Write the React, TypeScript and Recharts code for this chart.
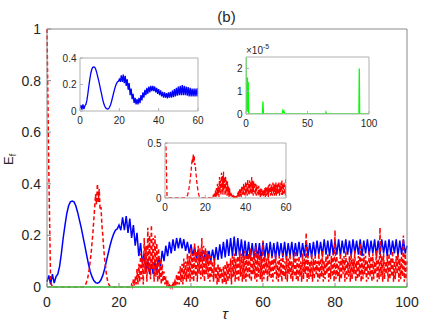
import React from 'react'
import { LineChart, Line, XAxis, YAxis } from 'recharts'

// time axis for the first mode, step 0.5
const tau = [
  0, 0.5, 1, 1.5, 2, 2.5, 3, 3.5, 4, 4.5, 5, 5.5, 6, 6.5, 7, 7.5, 8, 8.5, 9, 9.5,
  10, 10.5, 11, 11.5, 12, 12.5, 13, 13.5, 14, 14.5, 15, 15.5, 16, 16.5, 17, 17.5, 18, 18.5, 19, 19.5,
  20, 20.5, 21, 21.5, 22, 22.5, 23, 23.5, 24, 24.5, 25, 25.5, 26, 26.5, 27, 27.5, 28, 28.5, 29, 29.5,
  30, 30.5, 31, 31.5, 32, 32.5, 33, 33.5, 34, 34.5, 35, 35.5, 36, 36.5, 37, 37.5, 38, 38.5, 39, 39.5,
  40, 40.5, 41, 41.5, 42, 42.5, 43, 43.5, 44, 44.5, 45, 45.5, 46, 46.5, 47, 47.5, 48, 48.5, 49, 49.5,
  50, 50.5, 51, 51.5, 52, 52.5, 53, 53.5, 54, 54.5, 55, 55.5, 56, 56.5, 57, 57.5, 58, 58.5, 59, 59.5,
  60, 60.5, 61, 61.5, 62, 62.5, 63, 63.5, 64, 64.5, 65, 65.5, 66, 66.5, 67, 67.5, 68, 68.5, 69, 69.5,
  70, 70.5, 71, 71.5, 72, 72.5, 73, 73.5, 74, 74.5, 75, 75.5, 76, 76.5, 77, 77.5, 78, 78.5, 79, 79.5,
  80, 80.5, 81, 81.5, 82, 82.5, 83, 83.5, 84, 84.5, 85, 85.5, 86, 86.5, 87, 87.5, 88, 88.5, 89, 89.5,
  90, 90.5, 91, 91.5, 92, 92.5, 93, 93.5, 94, 94.5, 95, 95.5, 96, 96.5, 97, 97.5, 98, 98.5, 99, 99.5,
  100,
]

const blueEf = [
  0.02, 0.045, 0.01, 0.05, 0.015, 0.04, 0.05, 0.08, 0.13, 0.19, 0.24, 0.285, 0.315, 0.33, 0.333, 0.33, 0.315, 0.29, 0.26, 0.23,
  0.195, 0.16, 0.125, 0.09, 0.06, 0.04, 0.025, 0.017, 0.015, 0.018, 0.028, 0.045, 0.07, 0.1, 0.13, 0.16, 0.185, 0.205, 0.22, 0.225,
  0.24, 0.22, 0.27, 0.22, 0.275, 0.21, 0.265, 0.19, 0.24, 0.16, 0.21, 0.12, 0.17, 0.09, 0.13, 0.06, 0.1, 0.05, 0.09, 0.05,
  0.1, 0.06, 0.12, 0.08, 0.14, 0.1, 0.16, 0.12, 0.175, 0.13, 0.185, 0.14, 0.19, 0.15, 0.19, 0.15, 0.185, 0.14, 0.175, 0.13,
  0.165, 0.12, 0.155, 0.11, 0.145, 0.1, 0.14, 0.1, 0.135, 0.095, 0.14, 0.1, 0.145, 0.1, 0.155, 0.105, 0.165, 0.11, 0.175, 0.115,
  0.185, 0.12, 0.19, 0.12, 0.195, 0.12, 0.19, 0.12, 0.185, 0.115, 0.18, 0.11, 0.175, 0.11, 0.17, 0.11, 0.17, 0.11, 0.17, 0.11,
  0.175, 0.115, 0.17, 0.11, 0.175, 0.115, 0.17, 0.11, 0.175, 0.12, 0.17, 0.115, 0.175, 0.11, 0.17, 0.12, 0.175, 0.115, 0.17, 0.12,
  0.175, 0.115, 0.17, 0.12, 0.18, 0.12, 0.17, 0.115, 0.175, 0.12, 0.18, 0.125, 0.175, 0.12, 0.185, 0.125, 0.18, 0.12, 0.185, 0.125,
  0.18, 0.125, 0.185, 0.12, 0.18, 0.13, 0.185, 0.125, 0.18, 0.12, 0.185, 0.13, 0.18, 0.125, 0.185, 0.12, 0.18, 0.13, 0.185, 0.125,
  0.18, 0.13, 0.185, 0.12, 0.18, 0.125, 0.185, 0.13, 0.18, 0.12, 0.185, 0.125, 0.18, 0.13, 0.185, 0.12, 0.18, 0.125, 0.185, 0.13,
  0.16,
]

// second mode oscillates faster: step 0.5 up to 10, then 0.25
const redTau = [
  0, 0.5, 1, 1.5, 2, 2.5, 3, 3.5, 4, 4.5, 5, 5.5, 6, 6.5, 7, 7.5, 8, 8.5, 9, 9.5,
  10, 10.25, 10.5, 10.75, 11, 11.25, 11.5, 11.75, 12, 12.25, 12.5, 12.75, 13, 13.25, 13.5, 13.75, 14, 14.25, 14.5, 14.75,
  15, 15.25, 15.5, 15.75, 16, 16.25, 16.5, 16.75, 17, 17.25, 17.5, 17.75, 18, 18.25, 18.5, 18.75, 19, 19.25, 19.5, 19.75,
  20, 20.25, 20.5, 20.75, 21, 21.25, 21.5, 21.75, 22, 22.25, 22.5, 22.75, 23, 23.25, 23.5, 23.75, 24, 24.25, 24.5, 24.75,
  25, 25.25, 25.5, 25.75, 26, 26.25, 26.5, 26.75, 27, 27.25, 27.5, 27.75, 28, 28.25, 28.5, 28.75, 29, 29.25, 29.5, 29.75,
  30, 30.25, 30.5, 30.75, 31, 31.25, 31.5, 31.75, 32, 32.25, 32.5, 32.75, 33, 33.25, 33.5, 33.75, 34, 34.25, 34.5, 34.75,
  35, 35.25, 35.5, 35.75, 36, 36.25, 36.5, 36.75, 37, 37.25, 37.5, 37.75, 38, 38.25, 38.5, 38.75, 39, 39.25, 39.5, 39.75,
  40, 40.25, 40.5, 40.75, 41, 41.25, 41.5, 41.75, 42, 42.25, 42.5, 42.75, 43, 43.25, 43.5, 43.75, 44, 44.25, 44.5, 44.75,
  45, 45.25, 45.5, 45.75, 46, 46.25, 46.5, 46.75, 47, 47.25, 47.5, 47.75, 48, 48.25, 48.5, 48.75, 49, 49.25, 49.5, 49.75,
  50, 50.25, 50.5, 50.75, 51, 51.25, 51.5, 51.75, 52, 52.25, 52.5, 52.75, 53, 53.25, 53.5, 53.75, 54, 54.25, 54.5, 54.75,
  55, 55.25, 55.5, 55.75, 56, 56.25, 56.5, 56.75, 57, 57.25, 57.5, 57.75, 58, 58.25, 58.5, 58.75, 59, 59.25, 59.5, 59.75,
  60, 60.25, 60.5, 60.75, 61, 61.25, 61.5, 61.75, 62, 62.25, 62.5, 62.75, 63, 63.25, 63.5, 63.75, 64, 64.25, 64.5, 64.75,
  65, 65.25, 65.5, 65.75, 66, 66.25, 66.5, 66.75, 67, 67.25, 67.5, 67.75, 68, 68.25, 68.5, 68.75, 69, 69.25, 69.5, 69.75,
  70, 70.25, 70.5, 70.75, 71, 71.25, 71.5, 71.75, 72, 72.25, 72.5, 72.75, 73, 73.25, 73.5, 73.75, 74, 74.25, 74.5, 74.75,
  75, 75.25, 75.5, 75.75, 76, 76.25, 76.5, 76.75, 77, 77.25, 77.5, 77.75, 78, 78.25, 78.5, 78.75, 79, 79.25, 79.5, 79.75,
  80, 80.25, 80.5, 80.75, 81, 81.25, 81.5, 81.75, 82, 82.25, 82.5, 82.75, 83, 83.25, 83.5, 83.75, 84, 84.25, 84.5, 84.75,
  85, 85.25, 85.5, 85.75, 86, 86.25, 86.5, 86.75, 87, 87.25, 87.5, 87.75, 88, 88.25, 88.5, 88.75, 89, 89.25, 89.5, 89.75,
  90, 90.25, 90.5, 90.75, 91, 91.25, 91.5, 91.75, 92, 92.25, 92.5, 92.75, 93, 93.25, 93.5, 93.75, 94, 94.25, 94.5, 94.75,
  95, 95.25, 95.5, 95.75, 96, 96.25, 96.5, 96.75, 97, 97.25, 97.5, 97.75, 98, 98.25, 98.5, 98.75, 99, 99.25, 99.5, 99.75,
  100,
]

const redEf = [
  1, 0.45, 0.02, 0, 0, 0, 0, 0, 0, 0, 0, 0, 0, 0, 0, 0, 0, 0, 0, 0,
  0, 0.002, 0.005, 0.01, 0.02, 0.03, 0.05, 0.07, 0.1, 0.13, 0.17, 0.21, 0.26, 0.31, 0.36, 0.32, 0.4, 0.33, 0.38, 0.3,
  0.31, 0.24, 0.2, 0.15, 0.11, 0.08, 0.05, 0.03, 0.015, 0.008, 0.003, 0, 0, 0, 0, 0, 0, 0, 0, 0,
  0, 0, 0, 0, 0, 0, 0, 0, 0, 0, 0, 0, 0, 0, 0.01, 0.002, 0.03, 0.005, 0.04, 0.01,
  0.07, 0.01, 0.09, 0.02, 0.13, 0.03, 0.11, 0.01, 0.19, 0.05, 0.16, 0.02, 0.23, 0.06, 0.2, 0.03, 0.24, 0.07, 0.19, 0.02,
  0.2, 0.04, 0.17, 0.02, 0.15, 0.03, 0.11, 0.01, 0.09, 0.02, 0.06, 0.01, 0.04, 0, 0.025, 0, 0.015, 0, 0.01, 0,
  0.02, 0, 0.03, 0.005, 0.05, 0.01, 0.06, 0.01, 0.08, 0.02, 0.09, 0.01, 0.11, 0.03, 0.1, 0.02, 0.13, 0.03, 0.12, 0.02,
  0.15, 0.03, 0.13, 0.02, 0.17, 0.04, 0.14, 0.02, 0.16, 0.05, 0.15, 0.03, 0.19, 0.04, 0.16, 0.02, 0.15, 0.05, 0.14, 0.03,
  0.13, 0.02, 0.12, 0.04, 0.1, 0.02, 0.11, 0.03, 0.08, 0.01, 0.09, 0.02, 0.08, 0.03, 0.07, 0.01, 0.08, 0.02, 0.09, 0.01,
  0.1, 0.02, 0.09, 0.03, 0.11, 0.01, 0.12, 0.04, 0.13, 0.02, 0.11, 0.03, 0.12, 0.02, 0.14, 0.04, 0.13, 0.02, 0.12, 0.03,
  0.14, 0.02, 0.12, 0.04, 0.13, 0.03, 0.15, 0.02, 0.12, 0.05, 0.14, 0.03, 0.16, 0.02, 0.13, 0.04, 0.14, 0.03, 0.12, 0.02,
  0.18, 0.03, 0.12, 0.05, 0.11, 0.02, 0.13, 0.04, 0.1, 0.03, 0.12, 0.02, 0.11, 0.05, 0.13, 0.03, 0.1, 0.02, 0.12, 0.04,
  0.11, 0.02, 0.13, 0.04, 0.1, 0.03, 0.12, 0.02, 0.11, 0.05, 0.13, 0.03, 0.1, 0.02, 0.12, 0.04, 0.14, 0.03, 0.11, 0.02,
  0.12, 0.04, 0.1, 0.02, 0.13, 0.03, 0.11, 0.05, 0.21, 0.02, 0.12, 0.03, 0.1, 0.04, 0.13, 0.02, 0.11, 0.03, 0.12, 0.05,
  0.1, 0.02, 0.13, 0.03, 0.11, 0.04, 0.14, 0.02, 0.1, 0.03, 0.12, 0.05, 0.13, 0.02, 0.11, 0.03, 0.12, 0.04, 0.13, 0.02,
  0.22, 0.03, 0.12, 0.04, 0.1, 0.02, 0.13, 0.03, 0.11, 0.05, 0.12, 0.02, 0.14, 0.03, 0.1, 0.04, 0.12, 0.02, 0.13, 0.03,
  0.11, 0.05, 0.14, 0.02, 0.1, 0.03, 0.12, 0.04, 0.17, 0.02, 0.11, 0.03, 0.13, 0.05, 0.12, 0.02, 0.1, 0.03, 0.14, 0.04,
  0.12, 0.02, 0.13, 0.03, 0.1, 0.05, 0.14, 0.02, 0.11, 0.03, 0.23, 0.04, 0.12, 0.02, 0.13, 0.03, 0.1, 0.05, 0.12, 0.02,
  0.13, 0.03, 0.11, 0.04, 0.14, 0.02, 0.1, 0.03, 0.12, 0.05, 0.13, 0.02, 0.11, 0.03, 0.12, 0.04, 0.2, 0.02, 0.13, 0.03,
  0.1,
]

// third mode, tiny: values in units of 1e-5
const greenTau = [0, 0.3, 0.6, 0.9, 1.2, 1.5, 1.8, 2.2, 3, 13.4, 13.8, 14.2, 29.5, 30, 30.4, 30.8, 31.5, 64.6, 65, 65.4, 91.8, 92.1, 92.4, 100]
const greenEf = [2.5, 0.1, 1.0, 0.2, 1.6, 0.1, 1.4, 0.05, 0, 0, 0.55, 0, 0, 0.15, 0.1, 0.13, 0, 0, 0.08, 0, 0, 2.0, 0, 0]

const mainXTicks = [0, 20, 40, 60, 80, 100]
const mainYTicks = [0, 0.2, 0.4, 0.6, 0.8, 1]
const ticks60 = [0, 20, 40, 60]
const ticks100 = [0, 50, 100]
const blueInsetY = [0, 0.2, 0.4]
const redInsetY = [0, 0.5]
const greenInsetY = [0, 1, 2]

const blueRows = tau.map((t, i) => ({ tau: t, blue: blueEf[i] }))
const redRows = redTau.map((t, i) => ({ tau: t, red: redEf[i] }))
const blueRows60 = blueRows.filter((r) => r.tau <= 60)
const redRows60 = redRows.filter((r) => r.tau <= 60)
const greenRows = greenTau.map((t, i) => ({ tau: t, green: greenEf[i] }))
const greenRowsMain = greenTau.map((t, i) => ({ tau: t, green: greenEf[i] * 1e-5 }))

const FONT = '"Liberation Sans", Arial, Helvetica, sans-serif'
const BLUE = '#0000ff'
const RED = '#ff0000'
const GREEN = '#00ff00'

function Inset({ left, top, w, h, data, xMax, xTicks, yMax, yTicks, children }: any) {
  const axisColor = '#b0b0b0'
  const tickFont = { fill: '#262626', fontSize: 10, fontFamily: FONT }
  return (
    <div style={{ position: 'absolute', left: left - 34, top: top - 6 }}>
      <LineChart width={w + 48} height={h + 26} data={data} margin={{ top: 5, right: 13, left: 0, bottom: 0 }}>
        <XAxis dataKey="tau" type="number" domain={[0, xMax]} ticks={xTicks} interval={0} allowDataOverflow
          height={20} tickSize={-3} tickMargin={9} stroke={axisColor} tick={tickFont} />
        <XAxis xAxisId="top" orientation="top" type="number" domain={[0, xMax]} ticks={xTicks} interval={0}
          height={1} tickSize={-3} stroke={axisColor} tick={false} />
        <YAxis type="number" domain={[0, yMax]} ticks={yTicks} interval={0} allowDataOverflow
          width={34} tickSize={-3} tickMargin={6.5} stroke={axisColor} tick={tickFont} />
        <YAxis yAxisId="right" orientation="right" type="number" domain={[0, yMax]} ticks={yTicks} interval={0}
          width={1} tickSize={-3} stroke={axisColor} tick={false} />
        {children}
      </LineChart>
    </div>
  )
}

export default function App() {
  const axisColor = '#8a8a8a'
  const tickFont = { fill: '#262626', fontSize: 14, fontFamily: FONT }
  return (
    <div style={{ position: 'absolute', left: 0, top: 0, width: 436, height: 327, background: '#fff' }}>
      <LineChart width={436} height={327} margin={{ top: 28, right: 28, left: 7, bottom: 0 }}>
        <XAxis dataKey="tau" type="number" domain={[0, 100]} ticks={mainXTicks} interval={0}
          height={40} tickSize={-4} tickMargin={14} stroke={axisColor} tick={tickFont} />
        <XAxis xAxisId="top" orientation="top" type="number" domain={[0, 100]} ticks={mainXTicks} interval={0}
          height={1} tickSize={-4} stroke={axisColor} tick={false} />
        <YAxis type="number" domain={[0, 1]} ticks={mainYTicks} interval={0}
          width={40} tickSize={-4} tickMargin={10} stroke={axisColor} tick={tickFont} />
        <YAxis yAxisId="right" orientation="right" type="number" domain={[0, 1]} ticks={mainYTicks} interval={0}
          width={1} tickSize={-4} stroke={axisColor} tick={false} />
        <Line data={blueRows} dataKey="blue" type="linear" stroke={BLUE} strokeWidth={1.5} dot={false} isAnimationActive={false} />
        <Line data={redRows} dataKey="red" type="linear" stroke={RED} strokeWidth={1.5} strokeDasharray="4 2.5" dot={false} isAnimationActive={false} />
        <Line data={greenRowsMain} dataKey="green" type="linear" stroke={GREEN} strokeWidth={1.5} dot={false} isAnimationActive={false} />
      </LineChart>

      <Inset left={80} top={58} w={118} h={53} data={blueRows60} xMax={60} xTicks={ticks60} yMax={0.4} yTicks={blueInsetY}>
        <Line dataKey="blue" type="linear" stroke={BLUE} strokeWidth={1.3} dot={false} isAnimationActive={false} />
      </Inset>

      <Inset left={246} top={57} w={123} h={57} data={greenRows} xMax={100} xTicks={ticks100} yMax={2.5} yTicks={greenInsetY}>
        <Line dataKey="green" type="linear" stroke={GREEN} strokeWidth={1.3} dot={false} isAnimationActive={false} />
      </Inset>

      <Inset left={165} top={143} w={121} h={55} data={redRows60} xMax={60} xTicks={ticks60} yMax={0.5} yTicks={redInsetY}>
        <Line dataKey="red" type="linear" stroke={RED} strokeWidth={1.3} strokeDasharray="4 2.5" dot={false} isAnimationActive={false} />
      </Inset>

      <svg width={436} height={327} style={{ position: 'absolute', left: 0, top: 0, pointerEvents: 'none' }}>
        <text x={226.5} y={22} textAnchor="middle" fontSize={15} fontFamily={FONT} fill="#262626">(b)</text>
        <text x={225} y={319} textAnchor="middle" fontSize={15} fontStyle="italic" fontFamily={FONT} fill="#262626">τ</text>
        <text transform="translate(13,165) rotate(-90)" fontSize={13} fontFamily={FONT} fill="#262626">
          E<tspan dy={3} fontSize={9}>f</tspan>
        </text>
        <text x={246} y={54} fontSize={10} fontFamily={FONT} fill="#262626">
          ×10<tspan dy={-5} fontSize={7}>-5</tspan>
        </text>
      </svg>
    </div>
  )
}
